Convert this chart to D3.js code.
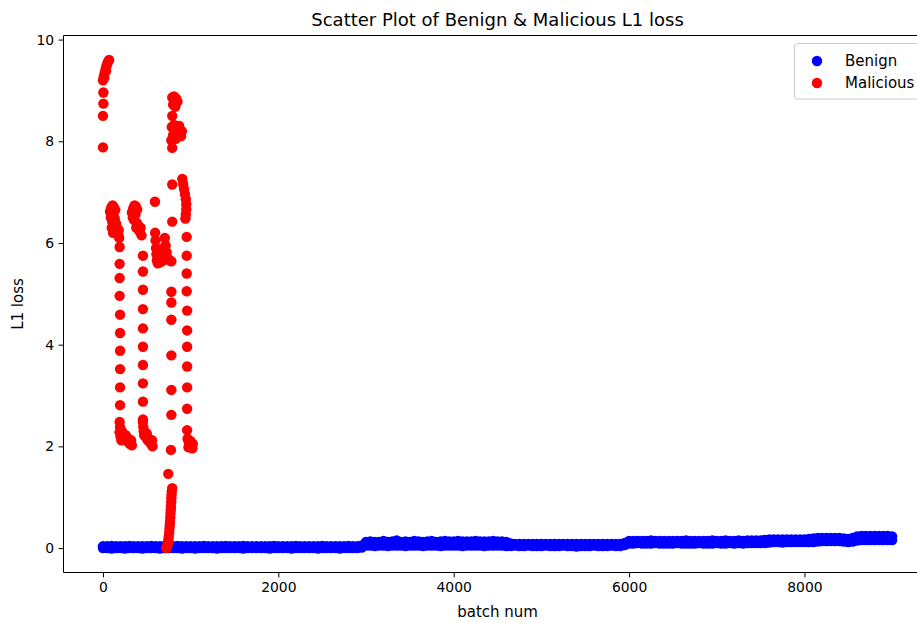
<!DOCTYPE html>
<html>
<head>
<meta charset="utf-8">
<script src="https://cdn.jsdelivr.net/npm/d3@7"></script>
<style>
  html, body { margin: 0; padding: 0; background: #fff; }
  svg { display: block; font-family: "DejaVu Sans", sans-serif; }
</style>
</head>
<body>
<div id="chart"></div>
<script>
// ---------------- DATA ----------------
const chartTitle = "Scatter Plot of Benign & Malicious L1 loss";
const xLabel = "batch num";
const yLabel = "L1 loss";
const seriesNames = ["Benign", "Malicious"];
const xTicks = [0, 2000, 4000, 6000, 8000];
const yTicks = [0, 2, 4, 6, 8, 10];

// Benign: dense band; lowest and highest reading in each 50-batch window, batch 0..9000
const benignStep = 50;
const benignLow = [
  0.00, 0.00, -0.01, 0.00, 0.00, -0.01, 0.00, 0.00, 0.00, -0.01,
  0.00, 0.00, 0.00, -0.01, 0.00, 0.00, 0.00, 0.00, -0.01, 0.00,
  0.00, -0.01, 0.00, 0.00, 0.00, 0.00, -0.01, 0.00, 0.00, 0.00,
  0.00, 0.00, -0.01, 0.00, 0.00, 0.00, 0.00, 0.00, -0.01, 0.00,
  0.00, 0.00, 0.00, -0.01, 0.00, 0.00, 0.00, 0.00, 0.00, -0.01,
  0.00, 0.00, 0.00, 0.00, -0.01, 0.00, 0.00, 0.00, 0.00, 0.01,
  0.05, 0.05, 0.04, 0.05, 0.05, 0.04, 0.05, 0.05, 0.05, 0.04,
  0.05, 0.05, 0.05, 0.04, 0.05, 0.05, 0.05, 0.04, 0.05, 0.05,
  0.05, 0.05, 0.04, 0.05, 0.05, 0.05, 0.05, 0.04, 0.05, 0.05,
  0.05, 0.05, 0.04, 0.04, 0.05, 0.04, 0.04, 0.05, 0.04, 0.04,
  0.04, 0.05, 0.04, 0.04, 0.04, 0.05, 0.04, 0.04, 0.03, 0.04,
  0.04, 0.04, 0.05, 0.04, 0.04, 0.04, 0.05, 0.04, 0.04, 0.06,
  0.09, 0.09, 0.10, 0.09, 0.09, 0.09, 0.10, 0.09, 0.09, 0.09,
  0.09, 0.10, 0.09, 0.09, 0.09, 0.09, 0.10, 0.09, 0.09, 0.09,
  0.10, 0.09, 0.09, 0.10, 0.09, 0.10, 0.09, 0.10, 0.10, 0.10,
  0.10, 0.10, 0.11, 0.12, 0.12, 0.11, 0.12, 0.12, 0.12, 0.12,
  0.12, 0.12, 0.12, 0.13, 0.14, 0.14, 0.14, 0.14, 0.14, 0.13,
  0.12, 0.13, 0.15, 0.16, 0.16, 0.16, 0.16, 0.16, 0.16, 0.16,
  0.16
];
const benignHigh = [
  0.035, 0.035, 0.04, 0.035, 0.035, 0.035, 0.04, 0.035, 0.035, 0.035,
  0.035, 0.04, 0.035, 0.035, 0.035, 0.035, 0.035, 0.04, 0.035, 0.035,
  0.035, 0.035, 0.035, 0.04, 0.035, 0.035, 0.035, 0.035, 0.04, 0.035,
  0.035, 0.035, 0.04, 0.035, 0.035, 0.035, 0.035, 0.035, 0.035, 0.04,
  0.035, 0.035, 0.035, 0.035, 0.04, 0.035, 0.035, 0.035, 0.035, 0.035,
  0.04, 0.035, 0.035, 0.035, 0.035, 0.035, 0.04, 0.035, 0.035, 0.05,
  0.12, 0.13, 0.12, 0.12, 0.14, 0.12, 0.13, 0.15, 0.12, 0.13,
  0.12, 0.14, 0.13, 0.12, 0.13, 0.14, 0.12, 0.13, 0.14, 0.13,
  0.13, 0.14, 0.13, 0.13, 0.13, 0.14, 0.13, 0.13, 0.13, 0.14,
  0.13, 0.13, 0.12, 0.09, 0.08, 0.08, 0.08, 0.08, 0.08, 0.08,
  0.08, 0.08, 0.08, 0.08, 0.08, 0.08, 0.08, 0.08, 0.08, 0.08,
  0.08, 0.08, 0.08, 0.08, 0.08, 0.08, 0.08, 0.08, 0.08, 0.10,
  0.14, 0.14, 0.14, 0.14, 0.14, 0.15, 0.14, 0.14, 0.14, 0.14,
  0.14, 0.14, 0.14, 0.15, 0.14, 0.14, 0.14, 0.14, 0.14, 0.15,
  0.14, 0.14, 0.15, 0.14, 0.14, 0.15, 0.14, 0.15, 0.15, 0.15,
  0.15, 0.16, 0.17, 0.17, 0.17, 0.17, 0.17, 0.17, 0.17, 0.17,
  0.17, 0.18, 0.19, 0.20, 0.20, 0.20, 0.20, 0.20, 0.20, 0.19,
  0.18, 0.20, 0.23, 0.24, 0.24, 0.24, 0.24, 0.24, 0.24, 0.24,
  0.23
];

// Malicious: batch numbers and losses
const malBatch = [
  0, 0, 5, 5, 0, 10, 20, 30, 40, 50, 60, 70, 15, 35,
  80, 95, 110, 125, 140, 90, 105, 120, 135, 150, 160, 170, 175, 180, 185, 100, 115,
  190, 190, 190, 190, 195, 195, 195, 195, 195, 195,
  190, 195, 190, 200, 215, 230, 245, 260, 275, 290, 305, 320, 330, 210,
  330, 345, 360, 375, 390, 340, 355, 370, 385, 400, 410, 420, 430, 440, 380,
  456, 456, 456, 456, 456, 456, 456, 456, 456, 456,
  455, 460, 465, 470, 480, 490, 500, 510, 520, 535, 550, 565, 560,
  593, 595, 600, 605, 610, 615, 625, 650, 680, 700, 705, 715, 725, 740, 760, 780, 690,
  790, 790, 780, 780, 780, 780, 780, 780, 775, 745,
  790, 785, 782, 780, 778, 775, 773, 770, 768, 765, 762, 758, 755, 750, 745, 740, 735, 730, 725, 722,
  790, 810, 835, 850, 800, 825, 790, 785, 810, 840, 870, 900, 800, 830, 860, 890, 780, 790,
  905, 915, 925, 935, 945, 950, 950, 945, 940,
  955, 955, 955, 955, 960, 960, 960, 960, 960, 960, 960,
  965, 980, 995, 1010, 1025, 975, 1000, 1020
];
const malLoss = [
  7.88, 8.50, 8.74, 8.96, 9.20, 9.28, 9.35, 9.42, 9.48, 9.53, 9.57, 9.60, 9.25, 9.38,
  6.62, 6.70, 6.74, 6.70, 6.65, 6.50, 6.42, 6.55, 6.48, 6.38, 6.30, 6.22, 6.15, 6.25, 6.10, 6.30, 6.20,
  5.92, 5.59, 5.31, 4.96, 4.59, 4.23, 3.88, 3.52, 3.16, 2.81,
  2.48, 2.38, 2.28, 2.20, 2.30, 2.25, 2.15, 2.22, 2.10, 2.15, 2.05, 2.12, 2.02, 2.12,
  6.60, 6.68, 6.74, 6.72, 6.66, 6.50, 6.45, 6.56, 6.40, 6.35, 6.28, 6.22, 6.30, 6.15, 6.30,
  5.75, 5.44, 5.08, 4.70, 4.32, 3.96, 3.60, 3.24, 2.88, 2.53,
  2.48, 2.38, 2.30, 2.22, 2.28, 2.18, 2.25, 2.12, 2.15, 2.08, 2.05, 2.00, 2.12,
  6.81, 6.20, 6.05, 5.90, 5.78, 5.66, 5.60, 5.62, 5.65, 5.72, 6.10, 5.95, 5.82, 5.70, 5.66, 5.64, 5.90,
  7.15, 6.42, 5.04, 4.83, 4.49, 3.79, 3.11, 2.62, 1.93, 1.46,
  1.18, 1.12, 1.05, 0.98, 0.90, 0.82, 0.75, 0.68, 0.60, 0.52, 0.45, 0.38, 0.30, 0.22, 0.15, 0.10, 0.06, 0.03, 0.01, 0.00,
  8.86, 8.88, 8.84, 8.78, 8.72, 8.68, 8.50, 8.28, 8.32, 8.25, 8.30, 8.20, 8.12, 8.05, 8.15, 8.10, 8.02, 7.87,
  7.26, 7.16, 7.06, 6.96, 6.86, 6.76, 6.66, 6.56, 6.48,
  6.12, 5.75, 5.40, 5.05, 4.67, 4.28, 3.96, 3.57, 3.16, 2.74, 2.32,
  2.15, 2.08, 2.02, 1.98, 2.05, 1.98, 2.10, 1.96
];

const colors = ["#0000ff", "#ff0000"];

// ---------------- DRAW ----------------
const W = 917, H = 623;
const svg = d3.select("#chart").append("svg").attr("width", W).attr("height", H);

const plot = { left: 63.5, right: 931.6, top: 35.5, bottom: 572.5 };
const x = d3.scaleLinear().domain([-450, 9450]).range([plot.left, plot.right]);
const y = d3.scaleLinear().domain([-0.48, 10.08]).range([plot.bottom, plot.top]);

const benign = benignLow.map((v, i) => ({ b: i * benignStep, v }))
  .concat(benignHigh.map((v, i) => ({ b: i * benignStep, v })));
const malicious = malBatch.map((b, i) => ({ b, v: malLoss[i] }));

const R = 5.2;
svg.append("g").selectAll("circle").data(benign).join("circle")
  .attr("cx", d => x(d.b)).attr("cy", d => y(d.v)).attr("r", R).attr("fill", colors[0]);
svg.append("g").selectAll("circle").data(malicious).join("circle")
  .attr("cx", d => x(d.b)).attr("cy", d => y(d.v)).attr("r", R).attr("fill", colors[1]);

// Axes
const fs = 13.9;
const xAxis = svg.append("g").attr("transform", `translate(0,${plot.bottom})`)
  .call(d3.axisBottom(x).tickValues(xTicks).tickFormat(d3.format("d")).tickSize(4.9).tickPadding(4.5));
const yAxis = svg.append("g").attr("transform", `translate(${plot.left},0)`)
  .call(d3.axisLeft(y).tickValues(yTicks).tickFormat(d3.format("d")).tickSize(4.9).tickPadding(4.5));
[xAxis, yAxis].forEach(g => {
  g.select(".domain").remove();
  g.selectAll(".tick line").attr("stroke", "#000").attr("stroke-width", 1);
  g.selectAll(".tick text").attr("fill", "#000").style("font-size", fs + "px")
    .style("font-family", "'DejaVu Sans', sans-serif");
});

// Spines
svg.append("line").attr("x1", plot.left).attr("x2", plot.left).attr("y1", plot.top).attr("y2", plot.bottom)
  .attr("stroke", "#000").attr("stroke-width", 1);
svg.append("line").attr("x1", plot.left).attr("x2", plot.right).attr("y1", plot.bottom).attr("y2", plot.bottom)
  .attr("stroke", "#000").attr("stroke-width", 1);
svg.append("line").attr("x1", plot.left).attr("x2", plot.right).attr("y1", plot.top).attr("y2", plot.top)
  .attr("stroke", "#000").attr("stroke-width", 1);

// Title and labels
const cx = (plot.left + plot.right) / 2;
svg.append("text").attr("x", cx).attr("y", 26).attr("text-anchor", "middle")
  .style("font-size", "18px").attr("fill", "#000").text(chartTitle);
svg.append("text").attr("x", cx).attr("y", 617).attr("text-anchor", "middle")
  .style("font-size", "15px").attr("fill", "#000").text(xLabel);
svg.append("text").attr("transform", `translate(23,${(plot.top + plot.bottom) / 2}) rotate(-90)`)
  .attr("text-anchor", "middle").style("font-size", "15px").attr("fill", "#000").text(yLabel);

// Legend
const lg = svg.append("g");
lg.append("rect").attr("x", 794.5).attr("y", 43.5).attr("width", 130).attr("height", 55.5)
  .attr("rx", 3).attr("fill", "#fff").attr("fill-opacity", 0.8).attr("stroke", "#cccccc").attr("stroke-width", 1);
seriesNames.forEach((name, i) => {
  lg.append("circle").attr("cx", 817).attr("cy", 61 + i * 22).attr("r", R).attr("fill", colors[i]);
  lg.append("text").attr("x", 845).attr("y", 66 + i * 22).style("font-size", "15px")
    .attr("fill", "#000").text(name);
});
</script>
</body>
</html>
